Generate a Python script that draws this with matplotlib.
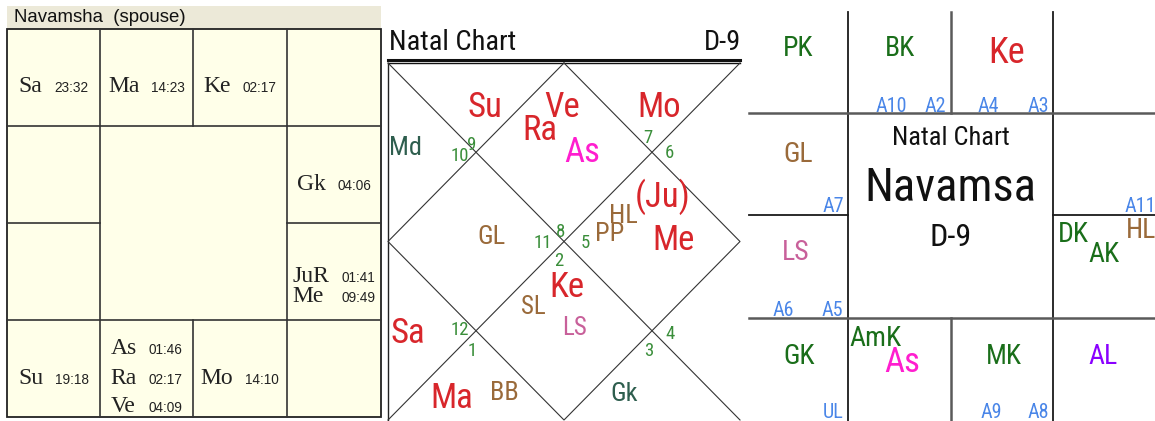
import matplotlib
matplotlib.use("Agg")
import matplotlib.pyplot as plt
from matplotlib import font_manager as fm
from matplotlib.patches import Rectangle

# ---------------- data ----------------
# Panel 1: Navamsha (spouse) square chart
p1_title = "Navamsha  (spouse)"
p1_planets = ['Sa', 'Ma', 'Ke', 'Gk', 'JuR', 'Me', 'Su', 'As', 'Ra', 'Ve', 'Mo']
p1_degrees = ['23:32', '14:23', '02:17', '04:06', '01:41', '09:49', '19:18', '01:46', '02:17', '04:09', '14:10']
p1_cells = [(0, 0), (1, 0), (2, 0), (3, 1), (3, 2), (3, 2), (0, 3), (1, 3), (1, 3), (1, 3), (2, 3)]

# Panel 2: North-Indian style Natal Chart D-9
p2_title = "Natal Chart"
p2_code = "D-9"
p2_labels = ['Su', 'Ve', 'Ra', 'As', 'Mo', 'Md', '(Ju)', 'HL', 'PP', 'Me', 'GL',
             'Ke', 'SL', 'LS', 'Sa', 'Ma', 'BB', 'Gk']
p2_kinds = ['planet', 'planet', 'planet', 'asc', 'planet', 'upa', 'planet', 'lagna', 'lagna', 'planet',
            'lagna', 'planet', 'lagna', 'ls', 'planet', 'planet', 'lagna', 'upa']
p2_signs = ['10', '9', '7', '6', '11', '8', '5', '2', '12', '1', '3', '4']

# Panel 3: South-Indian style Navamsa chart
p3_center = ['Natal Chart', 'Navamsa', 'D-9']
p3_labels = ['PK', 'BK', 'Ke', 'GL', 'LS', 'DK', 'AK', 'HL', 'GK', 'AmK', 'As', 'MK', 'AL']
p3_kinds = ['kar', 'kar', 'planet', 'lagna', 'ls', 'kar', 'kar', 'lagna', 'kar', 'kar', 'asc', 'kar', 'al']
p3_arudhas = ['A10', 'A2', 'A4', 'A3', 'A7', 'A11', 'A6', 'A5', 'UL', 'A9', 'A8']

# ---------------- style ----------------
names = {f.name for f in fm.fontManager.ttflist}
NARROW, NS = 'Liberation Sans', 0.88
for cand in ('Liberation Sans Narrow', 'Arial Narrow', 'Roboto Condensed', 'PT Sans Narrow',
             'Archivo Narrow'):
    if cand in names:
        NARROW, NS = cand, 1.0
        break

colors = {'planet': '#D8262B', 'asc': '#FF1ECF', 'upa': '#2E5E4E', 'lagna': '#9A6A3A',
          'ls': '#C8609A', 'kar': '#1A6E1A', 'al': '#8A00FF', 'num': '#3A8E3A', 'ar': '#4A86E8'}

fig = plt.figure(figsize=(11.55, 4.21), dpi=100)
ax = fig.add_axes([0, 0, 1, 1])
ax.set_xlim(0, 1155)
ax.set_ylim(421, 0)
ax.axis('off')
fig.patch.set_facecolor('white')
renderer = fig.canvas.get_renderer()

# ================= Panel 1 =================
xe = [7, 100, 193, 287, 381]
ye = [29, 126, 223, 320, 417]
ax.add_patch(Rectangle((7, 6), 374, 23, facecolor='#ECE9D8', edgecolor='none', zorder=0))
ax.text(14, 17, p1_title, fontsize=13.4, family='Liberation Sans', color='#111', va='center', ha='left')
panel = Rectangle((xe[0], ye[0]), xe[-1] - xe[0], ye[-1] - ye[0], facecolor='#FFFFE9',
                  edgecolor='#222', lw=1.3, zorder=1)
ax.add_patch(panel)
lc = '#333'
for y in (ye[1], ye[3]):
    ax.plot([xe[0], xe[-1]], [y, y], color=lc, lw=1.2, zorder=2)
for x in (xe[1], xe[3]):
    ax.plot([x, x], [ye[0], ye[-1]], color=lc, lw=1.2, zorder=2)
ax.plot([xe[2], xe[2]], [ye[0], ye[1]], color=lc, lw=1.2, zorder=2)
ax.plot([xe[2], xe[2]], [ye[3], ye[4]], color=lc, lw=1.2, zorder=2)
ax.plot([xe[0], xe[1]], [ye[2], ye[2]], color=lc, lw=1.2, zorder=2)
ax.plot([xe[3], xe[4]], [ye[2], ye[2]], color=lc, lw=1.2, zorder=2)

cells = {}
for nm, dg, c in zip(p1_planets, p1_degrees, p1_cells):
    cells.setdefault(c, []).append((nm, dg))
gap = 12
for (ci, ri), items in cells.items():
    n = len(items)
    s = 29 if n >= 3 else 20
    cx = (xe[ci] + xe[ci + 1]) / 2
    cy = (ye[ri] + ye[ri + 1]) / 2
    y0 = cy + 15 - (n - 1) * s / 2 + (5 if n == 2 else 0)
    tn, td = [], []
    for k, (nm, dg) in enumerate(items):
        a = ax.text(0, y0 + k * s, nm, fontsize=17, family='Liberation Serif', color='#222',
                    va='baseline', ha='left', zorder=3)
        b = ax.text(0, y0 + k * s, dg, fontsize=9.8, family='Liberation Sans', color='#222',
                    va='baseline', ha='left', zorder=3)
        tn.append(a); td.append(b)
    wn = max(t.get_window_extent(renderer).width for t in tn)
    widths = [wn + gap + t.get_window_extent(renderer).width for t in td]
    left = cx - min(widths) / 2
    for a, b in zip(tn, td):
        a.set_x(left)
        b.set_x(left + wn + gap)
        a.set_clip_path(panel)
        b.set_clip_path(panel)

# ================= Panel 2 =================
X0, Y0, W, H = 388, 63, 352, 357
ax.text(389, 42, p2_title, fontsize=20.5 * NS, family=NARROW, color='#111', va='center', ha='left')
ax.text(741, 42, p2_code, fontsize=20.5 * NS, family=NARROW, color='#111', va='center', ha='right')
ax.plot([X0, X0 + W], [59.5, 59.5], color='#111', lw=2.2)
ax.plot([X0, X0 + W], [63, 63], color='#111', lw=1.0)
ax.plot([X0, X0], [Y0, 421], color='#222', lw=1.0)
dl = dict(color='#333', lw=0.8)
ax.plot([X0, X0 + W], [Y0, Y0 + H], **dl)
ax.plot([X0 + W, X0], [Y0, Y0 + H], **dl)
ax.plot([X0 + W / 2, X0 + W, X0 + W / 2, X0, X0 + W / 2],
        [Y0, Y0 + H / 2, Y0 + H, Y0 + H / 2, Y0], **dl)

p2_pos = [(0.276, 0.126), (0.494, 0.126), (0.432, 0.190), (0.551, 0.251), (0.770, 0.126),
          (0.051, 0.238), (0.781, 0.375), (0.670, 0.428), (0.631, 0.478), (0.810, 0.498),
          (0.293, 0.487), (0.509, 0.629), (0.412, 0.683), (0.531, 0.741), (0.057, 0.758),
          (0.182, 0.940), (0.332, 0.924), (0.670, 0.926)]
p2_size = {'planet': 25, 'asc': 25, 'upa': 19, 'lagna': 19, 'ls': 18}
for lab, kind, (fx, fy) in zip(p2_labels, p2_kinds, p2_pos):
    sz = p2_size[kind]
    if lab in ('SL',):
        sz = 18
    ax.text(X0 + fx * W, Y0 + fy * H, lab, fontsize=sz * NS, family=NARROW,
            color=colors[kind], ha='center', va='center')
p2_sign_pos = [(0.205, 0.260), (0.239, 0.230), (0.739, 0.209), (0.798, 0.251), (0.440, 0.503),
               (0.489, 0.473), (0.560, 0.503), (0.486, 0.554), (0.205, 0.747), (0.239, 0.806),
               (0.741, 0.806), (0.801, 0.758)]
for s_, (fx, fy) in zip(p2_signs, p2_sign_pos):
    ax.text(X0 + fx * W, Y0 + fy * H, s_, fontsize=13.5 * NS, family=NARROW,
            color=colors['num'], ha='center', va='center')

# ================= Panel 3 =================
vx = [749, 848, 951, 1053, 1155]
hy = [12, 113, 215, 318, 421]
g1 = dict(color='#1a1a1a', lw=1.3)
g2 = dict(color='#5a5a5a', lw=1.8)
ax.plot([vx[1], vx[1]], [hy[0], hy[4]], **g1)
ax.plot([vx[3], vx[3]], [hy[0], hy[4]], **g1)
ax.plot([vx[2], vx[2]], [hy[0], hy[1]], **g2)
ax.plot([vx[2], vx[2]], [hy[3], hy[4]], **g2)
ax.plot([vx[0], vx[4]], [hy[1], hy[1]], **g2)
ax.plot([vx[0], vx[4]], [hy[3], hy[3]], **g2)
ax.plot([vx[0], vx[1]], [hy[2], hy[2]], **g1)
ax.plot([vx[3], vx[4]], [hy[2], hy[2]], **g1)

p3_pos = [(798, 49), (900, 49), (1007, 53), (798, 154), (796, 253), (1073, 235), (1104, 254),
          (1141, 230), (799, 357), (875, 338), (902, 363), (1004, 357), (1103, 357)]
p3_size = {'kar': 20, 'planet': 26, 'lagna': 20, 'ls': 20, 'asc': 25, 'al': 20}
for lab, kind, (px, py) in zip(p3_labels, p3_kinds, p3_pos):
    ax.text(px, py, lab, fontsize=p3_size[kind] * NS, family=NARROW,
            color=colors[kind], ha='center', va='center')
c_pos = [(951, 138), (950, 188), (951, 237)]
c_size = [19, 33.5, 23]
for lab, (px, py), sz in zip(p3_center, c_pos, c_size):
    ax.text(px, py, lab, fontsize=sz * NS, family=NARROW, color='#111', ha='center', va='center')
a_pos = [(891, 106), (935, 106), (988, 106), (1038, 106), (833, 207), (1140, 207),
         (783, 310), (832, 310), (833, 412), (991, 412), (1038, 412)]
for lab, (px, py) in zip(p3_arudhas, a_pos):
    t = ax.text(px, py, lab, fontsize=14.5 * NS, family=NARROW, color=colors['ar'],
                ha='center', va='center', zorder=1)

fig.savefig('out.png', dpi=100, facecolor='white')
